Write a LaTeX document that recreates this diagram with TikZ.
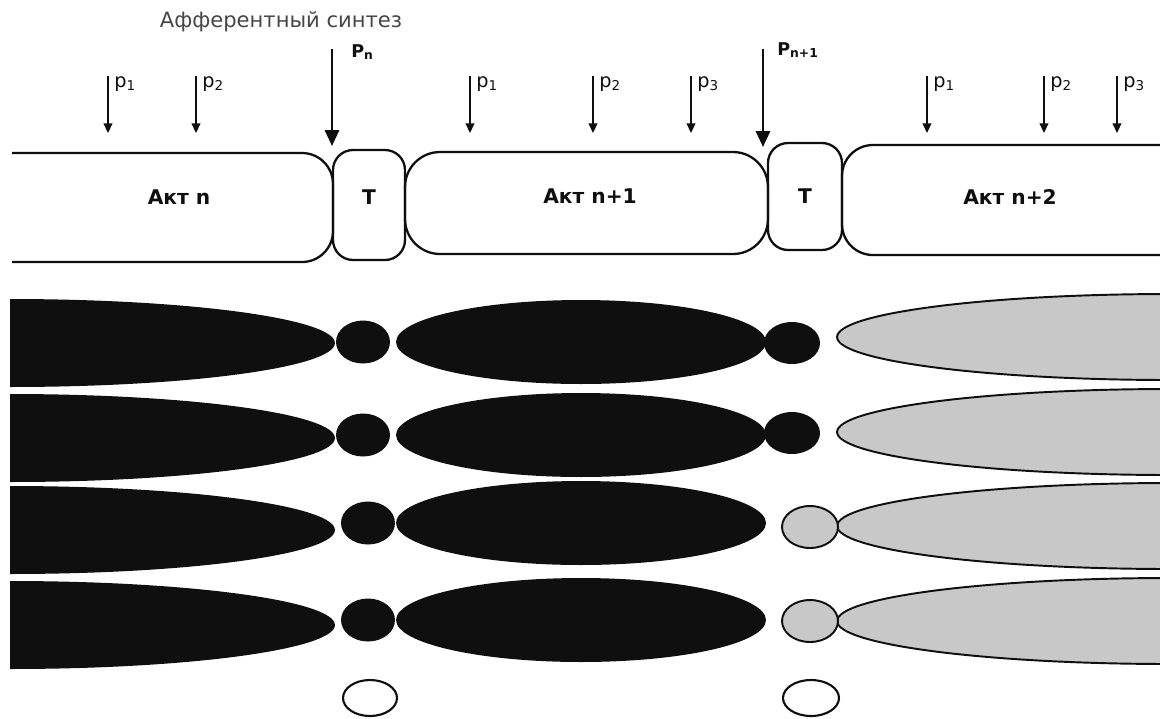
\documentclass[tikz,border=0pt]{standalone}
\usepackage{fontspec}
\setmainfont{DejaVu Sans}
\usepackage{tikz}
\usepackage{xcolor}
\usetikzlibrary{arrows.meta}
\definecolor{tinta}{RGB}{15,15,15}
\definecolor{grisclaro}{RGB}{200,200,200}
\definecolor{grisosc}{RGB}{70,70,70}

\tikzset{
  caja/.style={draw=tinta, line width=1.3pt, inner sep=0pt},
  rotulo/.style={font=\fontsize{11.5}{13}\selectfont\bfseries, text=tinta, inner sep=0pt},
  flechita/.style={draw=tinta, line width=0.9pt, -{Triangle[length=5.5pt,width=5pt]}},
  flechota/.style={draw=tinta, line width=1.4pt, -{Triangle[length=9pt,width=8pt]}},
  pchica/.style={font=\fontsize{11}{13}\selectfont, text=tinta, anchor=base west, inner sep=0pt},
  pgrande/.style={font=\fontsize{10}{12}\selectfont\bfseries, text=tinta, anchor=base west, inner sep=0pt},
  negro/.style={fill=tinta},
  claro/.style={draw=tinta, fill=grisclaro, line width=1.1pt}
}

\begin{document}
\begin{tikzpicture}[x=0.02cm, y=-0.02cm]
    \useasboundingbox (0,0) rectangle (1160,718);
    \node[font=\fontsize{12}{14}\selectfont, text=grisosc, inner sep=0pt] (afsint) at (281,22) {Афферентный синтез};

    \draw[caja, rounded corners=0.62cm] (12,153) -- (333,153) -- (333,262) -- (12,262);
    \node[caja, minimum width=1.44cm, minimum height=2.2cm, rounded corners=0.4cm] (t1) at (369,205) {};
    \node[caja, minimum width=7.26cm, minimum height=2.04cm, rounded corners=0.7cm] (actn1) at (586.5,203) {};
    \node[caja, minimum width=1.48cm, minimum height=2.14cm, rounded corners=0.4cm] (t2) at (805,196.5) {};
    \draw[caja, rounded corners=0.62cm] (1160,145) -- (842,145) -- (842,255) -- (1160,255);

    \node[rotulo] (actn-txt) at (179,197) {Акт n};
    \node[rotulo] (t1-txt) at (369,197) {T};
    \node[rotulo] (actn1-txt) at (590,196) {Акт n+1};
    \node[rotulo] (t2-txt) at (805,196) {T};
    \node[rotulo] (actn2-txt) at (1010,197) {Акт n+2};

    \foreach \x/\k/\i in {108/a/1, 196/b/2, 470/c/1, 593/d/2, 691/e/3, 927/f/1, 1044/g/2, 1117/h/3}{
      \coordinate (p\k) at (\x,76);
      \coordinate (p\k-end) at (\x,133);
      \draw[flechita] (p\k) -- (p\k-end);
      \node[pchica] (p\k-txt) at (\x+6,87) {p\textsubscript{\i}};
    }

    \coordinate (pn) at (332,49);
    \coordinate (pn-end) at (332,146);
    \draw[flechota] (pn) -- (pn-end);
    \node[pgrande] (pn-txt) at (351,57) {P\textsubscript{n}};
    \coordinate (pn1) at (763,49);
    \coordinate (pn1-end) at (763,147);
    \draw[flechota] (pn1) -- (pn1-end);
    \node[pgrande] (pn1-txt) at (777,55) {P\textsubscript{n+1}};

    \begin{scope}
      \clip (10,0) rectangle (1160,718);
      \foreach \yl/\ym/\yr/\yg/\xl/\xr/\est in {343/342/343/337/363/792/negro, 438/435/433/432/363/792/negro, 530/523/527/526/368/810/claro, 625/620/621/621/368/810/claro}{
        \fill[tinta] (10,\yl) ellipse [x radius=6.5cm, y radius=0.88cm];
        \fill[tinta] (\xl,\ym) ellipse [x radius=0.54cm, y radius=0.43cm];
        \fill[tinta] (581,\ym) ellipse [x radius=3.7cm, y radius=0.84cm];
        \path[claro] (1170,\yg) ellipse [x radius=6.66cm, y radius=0.86cm];
        \path[\est] (\xr,\yr) ellipse [x radius=0.56cm, y radius=0.42cm];
      }
    \end{scope}

    \draw[tinta, line width=1.2pt] (370,698) ellipse [x radius=0.54cm, y radius=0.36cm];
    \draw[tinta, line width=1.2pt] (811,698) ellipse [x radius=0.56cm, y radius=0.36cm];
\end{tikzpicture}
\end{document}
